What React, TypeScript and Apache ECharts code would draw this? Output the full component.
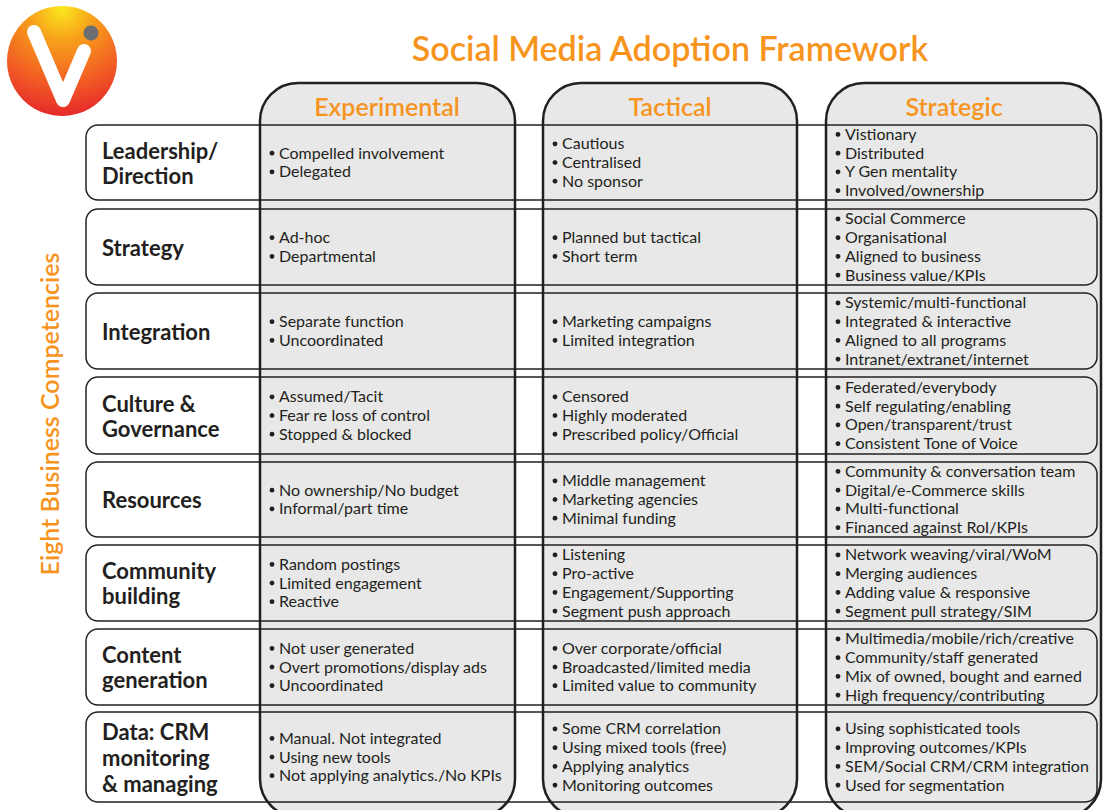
import React, { useEffect, useRef } from "react";
import * as echarts from "echarts";

// ---------- data ----------
const title = "Social Media Adoption Framework";
const sideLabel = "Eight Business Competencies";
const stages = ["Experimental", "Tactical", "Strategic"];
const competencies = [
  ["Leadership/", "Direction"],
  ["Strategy"],
  ["Integration"],
  ["Culture &", "Governance"],
  ["Resources"],
  ["Community", "building"],
  ["Content", "generation"],
  ["Data: CRM", "monitoring", "& managing"],
];
const experimental = [
  ["Compelled involvement", "Delegated"],
  ["Ad-hoc", "Departmental"],
  ["Separate function", "Uncoordinated"],
  ["Assumed/Tacit", "Fear re loss of control", "Stopped & blocked"],
  ["No ownership/No budget", "Informal/part time"],
  ["Random postings", "Limited engagement", "Reactive"],
  ["Not user generated", "Overt promotions/display ads", "Uncoordinated"],
  ["Manual. Not integrated", "Using new tools", "Not applying analytics./No KPIs"],
];
const tactical = [
  ["Cautious", "Centralised", "No sponsor"],
  ["Planned but tactical", "Short term"],
  ["Marketing campaigns", "Limited integration"],
  ["Censored", "Highly moderated", "Prescribed policy/Official"],
  ["Middle management", "Marketing agencies", "Minimal funding"],
  ["Listening", "Pro-active", "Engagement/Supporting", "Segment push approach"],
  ["Over corporate/official", "Broadcasted/limited media", "Limited value to community"],
  ["Some CRM correlation", "Using mixed tools (free)", "Applying analytics", "Monitoring outcomes"],
];
const strategic = [
  ["Vistionary", "Distributed", "Y Gen mentality", "Involved/ownership"],
  ["Social Commerce", "Organisational", "Aligned to business", "Business value/KPIs"],
  ["Systemic/multi-functional", "Integrated & interactive", "Aligned to all programs", "Intranet/extranet/internet"],
  ["Federated/everybody", "Self regulating/enabling", "Open/transparent/trust", "Consistent Tone of Voice"],
  ["Community & conversation team", "Digital/e-Commerce skills", "Multi-functional", "Financed against RoI/KPIs"],
  ["Network weaving/viral/WoM", "Merging audiences", "Adding value & responsive", "Segment pull strategy/SIM"],
  ["Multimedia/mobile/rich/creative", "Community/staff generated", "Mix of owned, bought and earned", "High frequency/contributing"],
  ["Using sophisticated tools", "Improving outcomes/KPIs", "SEM/Social CRM/CRM integration", "Used for segmentation"],
];
const stageCells = [experimental, tactical, strategic];

// ---------- layout ----------
const FONT = "Lato, 'Noto Sans', sans-serif";
const ORANGE = "#F7941D";
const INK = "#231F20";
const colX = [260, 543, 826];
const colW = [255, 254, 275];
const headerX = [387, 670, 954];
const colTop = 83;
const colBottom = 817;
const rowTop = [125, 209, 293, 377, 462, 545, 629, 712];
const rowBottom = [200, 285, 369, 454, 537, 621, 705, 802];
const rowLeft = 86;
const rowRight = 1097;

function txt(x: number, y: number, text: string, font: string, fill: string, align = "left", extra: any = {}) {
  return {
    type: "text",
    x,
    y,
    ...extra,
    style: {
      text,
      fill,
      font,
      textAlign: align,
      align,
      textVerticalAlign: "middle",
      verticalAlign: "middle",
    },
  };
}

function buildGraphics() {
  const els: any[] = [];

  // logo
  els.push({
    type: "circle",
    shape: { cx: 62, cy: 61, r: 55 },
    style: {
      fill: {
        type: "radial",
        x: 0.5,
        y: 0.02,
        r: 1.0,
        colorStops: [
          { offset: 0, color: "#FAE91E" },
          { offset: 0.3, color: "#F8A01B" },
          { offset: 0.7, color: "#F15A24" },
          { offset: 1, color: "#E5262B" },
        ],
      },
    },
  });
  els.push({
    type: "polyline",
    shape: { points: [[34, 32], [63, 100], [84, 51]] },
    style: { stroke: "#FFFFFF", lineWidth: 14, lineCap: "round", lineJoin: "round", fill: null },
  });
  els.push({ type: "circle", shape: { cx: 91, cy: 33, r: 7.5 }, style: { fill: "#6D6E71" } });

  // title
  els.push(txt(670, 47, title, `600 34px ${FONT}`, ORANGE, "center"));

  // side label
  els.push(txt(49, 414, sideLabel, `600 25px ${FONT}`, ORANGE, "center", { rotation: Math.PI / 2 }));

  // columns
  stages.forEach((s, i) => {
    els.push({
      type: "rect",
      shape: { x: colX[i], y: colTop, width: colW[i], height: colBottom - colTop, r: 38 },
      style: { fill: "#E8E8E8", stroke: INK, lineWidth: 2.5 },
    });
    els.push(txt(headerX[i], 106, s, `600 25px ${FONT}`, ORANGE, "center"));
  });

  // row boxes
  competencies.forEach((lines, r) => {
    els.push({
      type: "rect",
      shape: { x: rowLeft, y: rowTop[r], width: rowRight - rowLeft, height: rowBottom[r] - rowTop[r], r: 12 },
      style: { fill: null, stroke: INK, lineWidth: 1.5 },
    });
    const cy = (rowTop[r] + rowBottom[r]) / 2;
    const lh = lines.length > 2 ? 26 : 25;
    lines.forEach((t, k) => {
      els.push(txt(102, cy + (k - (lines.length - 1) / 2) * lh, t, `bold 22px ${FONT}`, INK));
    });
  });

  // cells
  stageCells.forEach((cells, c) => {
    cells.forEach((lines, r) => {
      const cy = (rowTop[r] + rowBottom[r]) / 2 - 1;
      const lh = 18.7;
      lines.forEach((t, k) => {
        const y = cy + (k - (lines.length - 1) / 2) * lh;
        els.push({
          type: "circle",
          shape: { cx: colX[c] + 12, cy: y + 1, r: 2.4 },
          style: { fill: INK },
        });
        els.push(txt(colX[c] + 19, y, t, `16px ${FONT}`, INK));
      });
    });
  });

  return els;
}

export default function App() {
  const ref = useRef<HTMLDivElement>(null);
  useEffect(() => {
    if (!ref.current) return;
    const chart = echarts.init(ref.current, undefined, { renderer: "svg" });
    chart.setOption({
      animation: false,
      backgroundColor: "#FFFFFF",
      graphic: { elements: buildGraphics() },
    });
    return () => chart.dispose();
  }, []);
  return (
    <div
      ref={ref}
      style={{ position: "absolute", left: 0, top: 0, width: 1103, height: 810 }}
    />
  );
}
